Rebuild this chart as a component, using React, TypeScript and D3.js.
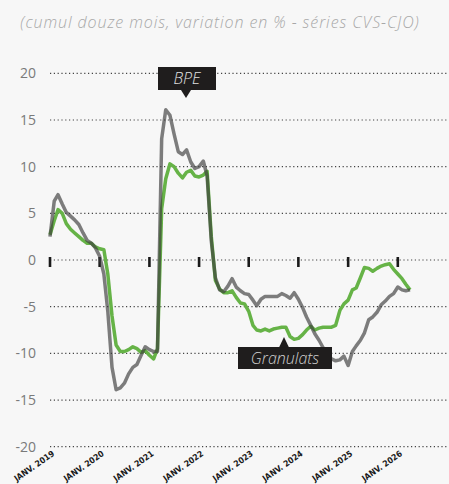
import { useRef, useEffect } from "react";
import * as d3 from "d3";

// monthly series, starting January 2019
const startMonth = new Date(2019, 0, 1);

const bpe = [
  2.5, 6.3, 7.0, 6.0, 5.1, 4.7, 4.3, 3.8, 2.9, 2.1, 1.8, 1.3,
  0.4, -1.5, -5.5, -11.5, -13.9, -13.7, -13.2, -12.2, -11.5, -11.2, -10.2, -9.3,
  -9.6, -9.8, -9.8, 13.0, 16.1, 15.5, 13.5, 11.6, 11.3, 11.8, 10.5, 9.8,
  10.0, 10.6, 9.0, 2.0, -1.9, -3.2, -3.4, -2.8, -2.0, -2.9, -3.3, -3.6,
  -3.7, -4.3, -4.9, -4.2, -3.9, -3.9, -3.9, -3.9, -3.6, -3.8, -4.1, -3.5,
  -4.2, -5.1, -6.1, -7.0, -7.9, -8.6, -9.4, -10.0, -10.6, -10.8, -10.7, -10.3,
  -11.3, -9.8, -9.2, -8.6, -7.8, -6.4, -6.1, -5.6, -4.8, -4.4, -3.9, -3.6,
  -2.9, -3.2, -3.3, -3.2,
];

const granulats = [
  2.7, 4.2, 5.4, 5.0, 3.9, 3.3, 2.9, 2.5, 2.1, 1.8, 1.8, 1.4,
  1.2, 1.1, -1.5, -6.0, -9.1, -9.8, -9.8, -9.6, -9.3, -9.5, -9.9, -9.7,
  -10.2, -10.6, -9.5, 5.5, 8.7, 10.3, 10.0, 9.3, 8.8, 9.4, 9.6, 9.0,
  8.9, 9.1, 9.5, 2.5, -2.2, -3.1, -3.5, -3.5, -3.3, -4.0, -4.6, -4.7,
  -5.5, -7.0, -7.5, -7.6, -7.4, -7.6, -7.4, -7.3, -7.2, -7.2, -8.2, -8.5,
  -8.4, -8.0, -7.5, -7.1, -7.5, -7.3, -7.2, -7.2, -7.2, -7.0, -5.4, -4.7,
  -4.3, -3.2, -3.0, -1.9, -0.8, -0.9, -1.2, -0.9, -0.65, -0.5, -0.4, -1.0,
  -1.5, -2.0, -2.6, -3.2,
];

const yTicks = [20, 15, 10, 5, 0, -5, -10, -15, -20];
const yearTicks = [2019, 2020, 2021, 2022, 2023, 2024, 2025, 2026];
const title = "(cumul douze mois, variation en % - séries CVS-CJO)";

const W = 449;
const H = 484;

const App = () => {
  const svgRef = useRef<SVGSVGElement | null>(null);

  useEffect(() => {
    if (!svgRef.current) return;
    const svg = d3.select(svgRef.current);
    svg.selectAll("*").remove();

    svg.append("rect").attr("width", W).attr("height", H).attr("fill", "#f7f7f7");

    const x = d3
      .scaleTime()
      .domain([new Date(2019, 0, 1), new Date(2026, 0, 1)])
      .range([50, 397.8]);
    const y = d3.scaleLinear().domain([-20, 20]).range([446.7, 73.3]);

    // titre
    svg
      .append("text")
      .attr("x", 220)
      .attr("y", 28)
      .attr("text-anchor", "middle")
      .attr("font-family", "'Open Sans', sans-serif")
      .attr("font-style", "italic")
      .attr("font-weight", 300)
      .attr("font-size", 16)
      .attr("letter-spacing", 0.9)
      .attr("fill", "#a8a8a8")
      .text(title);

    // grille pointillée
    svg
      .append("g")
      .selectAll("line")
      .data(yTicks)
      .join("line")
      .attr("x1", 50)
      .attr("x2", W)
      .attr("y1", (d) => y(d))
      .attr("y2", (d) => y(d))
      .attr("stroke", "#444")
      .attr("stroke-width", 1.2)
      .attr("stroke-dasharray", "1.2,2.6");

    // étiquettes Y
    svg
      .append("g")
      .selectAll("text")
      .data(yTicks)
      .join("text")
      .attr("x", 36)
      .attr("y", (d) => y(d) + 5)
      .attr("text-anchor", "end")
      .attr("font-family", "'Open Sans', sans-serif")
      .attr("font-size", 14)
      .attr("fill", "#7a7a7a")
      .text((d) => d);

    // repères des années sur l'axe 0
    const yearDates = yearTicks.map((yr) => new Date(yr, 0, 1));
    svg
      .append("g")
      .selectAll("line")
      .data(yearDates)
      .join("line")
      .attr("x1", (d) => x(d))
      .attr("x2", (d) => x(d))
      .attr("y1", y(0) - 3)
      .attr("y2", y(0) + 7)
      .attr("stroke", "#1a1a1a")
      .attr("stroke-width", 2.6);

    // étiquettes X
    svg
      .append("g")
      .selectAll("text")
      .data(yearDates)
      .join("text")
      .attr("transform", (d) => `translate(${x(d) + 5},${455}) rotate(-35)`)
      .attr("text-anchor", "end")
      .attr("font-family", "'DejaVu Sans Condensed', 'DejaVu Sans', sans-serif")
      .attr("font-weight", "bold")
      .attr("font-size", 8.5)
      .attr("fill", "#1a1a1a")
      .text((d) => `JANV. ${d.getFullYear()}`);

    const months = (n: number) => d3.timeMonth.range(startMonth, d3.timeMonth.offset(startMonth, n));

    const line = d3
      .line<[Date, number]>()
      .x((d) => x(d[0]))
      .y((d) => y(d[1]));

    const gDates = months(granulats.length);
    svg
      .append("path")
      .datum(gDates.map((d, i) => [d, granulats[i]] as [Date, number]))
      .attr("d", line)
      .attr("fill", "none")
      .attr("stroke", "#66b347")
      .attr("stroke-width", 3.5)
      .attr("stroke-linejoin", "round");

    const bDates = months(bpe.length);
    svg
      .append("path")
      .datum(bDates.map((d, i) => [d, bpe[i]] as [Date, number]))
      .attr("d", line)
      .attr("fill", "none")
      .attr("stroke", "#3c3c3c")
      .attr("stroke-opacity", 0.66)
      .attr("stroke-width", 3.5)
      .attr("stroke-linejoin", "round");

    // étiquette BPE
    const bpeG = svg.append("g");
    bpeG.append("rect").attr("x", 158).attr("y", 67).attr("width", 58).attr("height", 23).attr("fill", "#1f1d1d");
    bpeG.append("path").attr("d", "M181,90 L191,90 L186,98 Z").attr("fill", "#1f1d1d");
    bpeG
      .append("text")
      .attr("x", 187)
      .attr("y", 84)
      .attr("text-anchor", "middle")
      .attr("font-family", "'Open Sans', sans-serif")
      .attr("font-style", "italic")
      .attr("font-weight", 300)
      .attr("font-size", 16)
      .attr("fill", "#e0e0e0")
      .text("BPE");

    // étiquette Granulats
    const grG = svg.append("g");
    grG.append("rect").attr("x", 238).attr("y", 347).attr("width", 94).attr("height", 22).attr("fill", "#1f1d1d");
    grG.append("path").attr("d", "M279,347.5 L289,347.5 L284,337 Z").attr("fill", "#1f1d1d");
    grG
      .append("text")
      .attr("x", 285)
      .attr("y", 364)
      .attr("text-anchor", "middle")
      .attr("font-family", "'Open Sans', sans-serif")
      .attr("font-style", "italic")
      .attr("font-weight", 300)
      .attr("font-size", 16)
      .attr("fill", "#cfcfcf")
      .text("Granulats");
  }, []);

  return (
    <div style={{ position: "absolute", top: 0, left: 0 }}>
      <svg ref={svgRef} width={W} height={H} style={{ display: "block" }}></svg>
    </div>
  );
};

export default App;
